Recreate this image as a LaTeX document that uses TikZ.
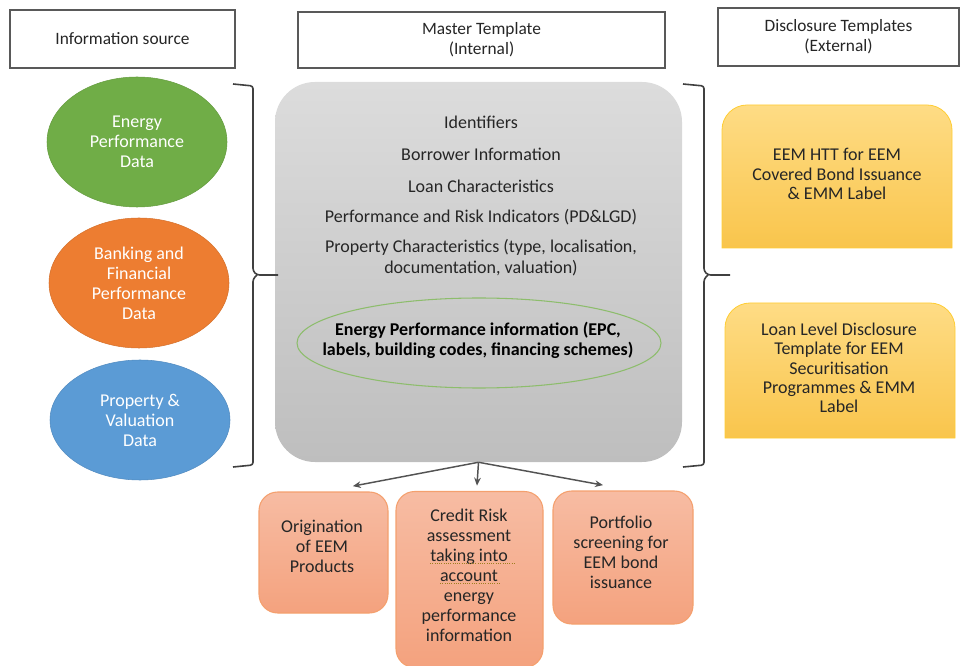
\documentclass[tikz,border=0pt]{standalone}
\usepackage{fontspec}
\setmainfont{Carlito}
\usetikzlibrary{shapes.geometric,arrows.meta,positioning}
\definecolor{hdrline}{HTML}{595959}
\definecolor{gtop}{HTML}{DCDCDC}
\definecolor{gbot}{HTML}{BEBEBE}
\definecolor{epgreen}{HTML}{70AD47}
\definecolor{eporange}{HTML}{ED7D31}
\definecolor{epblue}{HTML}{5B9BD5}
\definecolor{ytop}{HTML}{FEDC85}
\definecolor{ybot}{HTML}{F9C54C}
\definecolor{yline}{HTML}{FFC000}
\definecolor{stop}{HTML}{F7BCA3}
\definecolor{sbot}{HTML}{F4A27E}
\definecolor{sline}{HTML}{F4A06E}
\definecolor{txt}{HTML}{262626}
\definecolor{brk}{HTML}{404040}
\definecolor{squig}{HTML}{A08020}
\tikzset{
  hdrbox/.style={draw=hdrline, line width=1pt, fill=white, align=center, font=\fontsize{13}{15}\selectfont, text=txt},
  srcell/.style={ellipse, fill=#1, draw=#1!90!black, line width=0.4pt, align=center, text=white, font=\fontsize{13.5}{15}\selectfont, inner sep=0pt},
  graybox/.style={rounded corners=30pt, top color=gtop, bottom color=gbot, draw=none},
  mtxt/.style={align=center, text=txt, font=\fontsize{13.5}{15.5}\selectfont, inner sep=0pt},
  epell/.style={ellipse, draw=epgreen!80, line width=0.8pt, inner sep=0pt},
  eptxt/.style={align=center, text=black, font=\bfseries\fontsize{13.5}{15}\selectfont, inner sep=0pt},
  ytxt/.style={align=center, text=txt, font=\fontsize{13.5}{14.5}\selectfont, inner sep=0pt},
  yshape/.style={top color=ytop, bottom color=ybot, draw=yline!80, line width=0.6pt},
  obox/.style={rounded corners=14pt, top color=stop, bottom color=sbot, draw=sline, line width=0.8pt},
  otxt/.style={align=center, text=txt, font=\fontsize{13.5}{15}\selectfont, inner sep=0pt},
  arr/.style={-{Stealth[length=6pt,width=5pt]}, draw=brk!90, line width=1.1pt},
  brack/.style={draw=brk, line width=1.2pt, rounded corners=2pt},
}
\begin{document}
\begin{tikzpicture}[x=0.75pt,y=-0.75pt]
\useasboundingbox (0,0) rectangle (960,666);
% headers
\node[hdrbox, minimum width=168.75pt, minimum height=43.5pt] (hinfo) at (122.5,39) {Information source};
\node[hdrbox, minimum width=275.25pt, minimum height=42pt] (hmaster) at (481.5,40) {Master Template\\(Internal)};
\node[hdrbox, minimum width=180.75pt, minimum height=43.5pt] (hdisc) at (838.5,37) {Disclosure Templates\\(External)};
% source ellipses
\node[srcell=epgreen, minimum width=135pt, minimum height=97.5pt] (eenergy) at (137,142) {Energy\\Performance\\Data};
\node[srcell=eporange, minimum width=135pt, minimum height=97.5pt] (ebank) at (139,283) {Banking and\\Financial\\Performance\\Data};
\node[srcell=epblue, minimum width=135pt, minimum height=90pt] (eprop) at (140,420) {Property \&\\Valuation\\Data};
% master box
\node[graybox, minimum width=305.25pt, minimum height=285pt] (master) at (478.5,272) {};
\node[mtxt] (mid) at (481,122) {Identifiers};
\node[mtxt] (mbor) at (481,154) {Borrower Information};
\node[mtxt] (mloan) at (481,186) {Loan Characteristics};
\node[mtxt] (mperf) at (481,217) {Performance and Risk Indicators (PD\&LGD)};
\node[mtxt] (mprop) at (481,258) {Property Characteristics (type, localisation,\\documentation, valuation)};
\node[epell, minimum width=273pt, minimum height=67.5pt] (mener) at (479,343) {};
\node[eptxt] (tener) at (478,340) {Energy Performance information (EPC,\\labels, building codes, financing schemes)};
% yellow disclosure boxes (rounded top corners)
\draw[yshape] (722,248) -- (722,130) arc[start angle=180,end angle=270,radius=25] -- (927,105) arc[start angle=270,end angle=360,radius=25] -- (952,248) -- cycle;
\node[ytxt] (ydisc1) at (837,174) {EEM HTT for EEM\\Covered Bond Issuance\\\& EMM Label};
\draw[yshape] (725,438) -- (725,328) arc[start angle=180,end angle=270,radius=25] -- (930,303) arc[start angle=270,end angle=360,radius=25] -- (955,438) -- cycle;
\node[ytxt] (ydisc2) at (839,368) {Loan Level Disclosure\\Template for EEM\\Securitisation\\Programmes \& EMM\\Label};
% bottom boxes
\node[obox, minimum width=96.75pt, minimum height=90.75pt] (borig) at (323.5,552.5) {};
\node[otxt] (torig) at (322,546) {Origination\\of EEM\\Products};
\node[obox, minimum width=110.25pt, minimum height=132pt] (bcred) at (469.5,579.5) {};
\node[otxt] (tcred) at (469,575) {Credit Risk\\assessment\\taking into\\account\\energy\\performance\\information};
\node[obox, minimum width=105pt, minimum height=99.75pt] (bport) at (623,557.5) {};
\node[otxt] (tport) at (621,552) {Portfolio\\screening for\\EEM bond\\issuance};
\draw[squig, densely dotted, line width=0.7pt] (430,563) -- (515,563);
\draw[squig, densely dotted, line width=0.7pt] (440,583) -- (500,583);
% arrows
\draw[arr] (master.south) -- ([xshift=22pt,yshift=4pt]borig.north);
\draw[arr] (master.south) -- ([xshift=5.6pt,yshift=4pt]bcred.north);
\draw[arr] (master.south) -- ([xshift=-15pt,yshift=4pt]bport.north);
% brackets
\draw[brack] (233,84) -- (253,86) -- (253,271) -- (257,275) -- (278,275);
\draw[brack] (257,275) -- (253,279) -- (253,465) -- (233,467);
\draw[brack] (683,84) -- (704,86) -- (704,271) -- (708,275) -- (730,275);
\draw[brack] (708,275) -- (704,279) -- (704,465) -- (683,467);
\end{tikzpicture}
\end{document}
